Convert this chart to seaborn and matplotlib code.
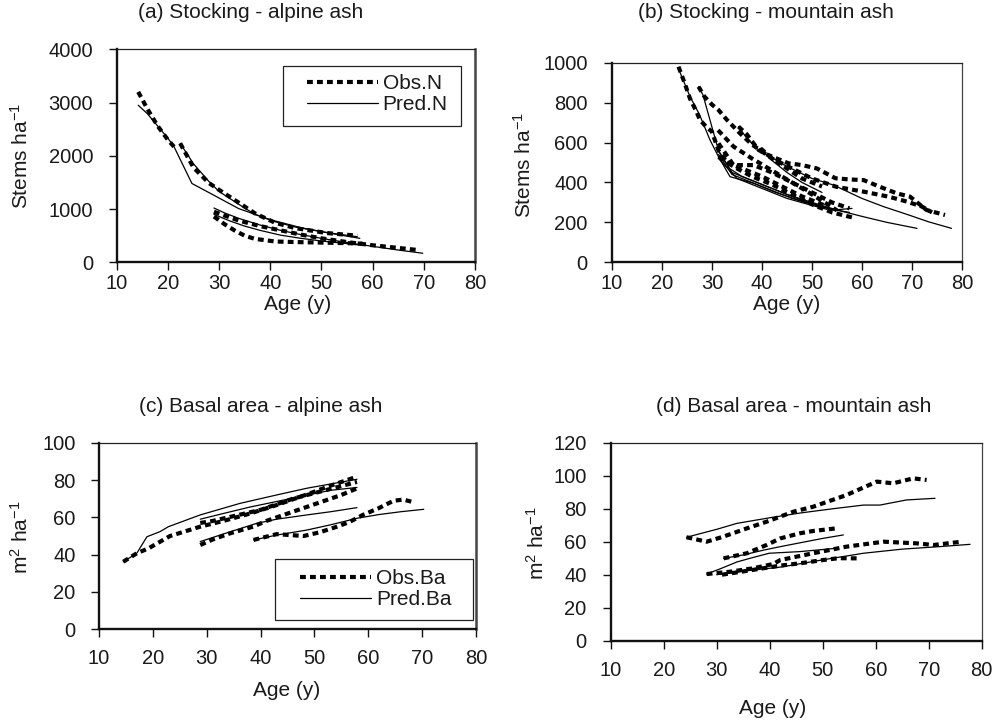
import numpy as np
import pandas as pd
import matplotlib
matplotlib.use("Agg")
import matplotlib.pyplot as plt
import seaborn as sns
from matplotlib.lines import Line2D
from matplotlib.patches import Rectangle

# ---------------- data: (a) Stocking - alpine ash ----------------
a1_obs_age = [14.2, 16, 18, 20, 21.2]
a1_obs = [3200, 2880, 2560, 2300, 2170]
a1_pred_age = [14.2, 16, 18, 20, 21.2, 24.7, 28.2, 33.8, 40, 46, 52, 57.5]
a1_pred = [2950, 2790, 2560, 2330, 2170, 1480, 1300, 1010, 800, 650, 540, 450]
a2_obs_age = [22.4, 25, 28, 30, 34, 37, 41, 45, 51, 57]
a2_obs = [2234, 1780, 1490, 1360, 1110, 920, 740, 640, 550, 500]
a2_pred_age = [22.4, 25, 28, 30, 34, 37, 41, 45, 51, 57]
a2_pred = [2234, 1850, 1520, 1330, 1080, 900, 760, 660, 560, 480]
a3_obs_age = [29, 31, 34, 38, 42, 46, 50, 55, 60, 65, 68.9]
a3_obs = [950, 880, 780, 680, 600, 520, 450, 380, 320, 270, 230]
a3_pred_age = [29, 31, 34, 38, 42, 46, 50, 55, 60, 65, 69.8]
a3_pred = [1020, 930, 820, 700, 600, 520, 450, 370, 300, 230, 170]
a4_obs_age = [29, 31, 33, 35, 37, 41, 45, 50, 55, 58]
a4_obs = [860, 720, 600, 500, 440, 390, 380, 370, 360, 350]
a4_pred_age = [29, 32, 35, 38, 42, 46, 50, 54, 58]
a4_pred = [900, 780, 680, 600, 510, 450, 400, 360, 320]

# ---------------- data: (b) Stocking - mountain ash ----------------
b1_obs_age = [23.3, 24.5, 25.6, 26.8, 27.6, 28.8, 30, 31.3, 33, 35, 38, 42, 46, 50, 54, 58]
b1_obs = [980, 900, 820, 760, 713, 680, 654, 560, 500, 470, 430, 390, 340, 290, 250, 225]
b1_pred_age = [23.3, 25.6, 27.5, 29.6, 31.3, 33.6, 38.3, 42.3, 48.3, 54.3, 58]
b1_pred = [970, 830, 740, 613, 529, 429, 396, 354, 304, 262, 270]
b2_obs_age = [27.3, 28.5, 30, 31.3, 33, 35.6, 38, 42, 46, 50, 54.9, 60.3, 65.3, 69, 72, 74]
b2_obs = [880, 830, 790, 763, 713, 646, 590, 520, 470, 420, 378, 354, 329, 304, 279, 250]
b2_pred_age = [27.3, 28.2, 31.3, 33.5, 36, 40, 45, 50, 55, 60, 65, 71]
b2_pred = [880, 838, 560, 470, 430, 390, 340, 300, 262, 230, 200, 170]
b3_obs_age = [31.2, 34.3, 38, 42, 46, 50, 55]
b3_obs = [662, 580, 520, 460, 400, 340, 260]
b3_pred_age = [31.2, 34, 38, 42, 46, 50, 55]
b3_pred = [560, 450, 410, 370, 330, 295, 260]
b4_obs_age = [31.3, 34.3, 38.3, 42, 46, 50, 54, 57.5]
b4_obs = [596, 487, 487, 450, 400, 350, 300, 270]
b4_pred_age = [31.3, 34, 38, 42, 46, 50, 54, 57.5]
b4_pred = [540, 440, 400, 360, 320, 290, 265, 250]
b5_obs_age = [31.3, 33, 36, 40, 44, 48, 53]
b5_obs = [529, 500, 470, 430, 380, 330, 280]
b5_pred_age = [31.3, 35, 40, 45, 50, 53]
b5_pred = [520, 420, 370, 320, 285, 265]
b6_obs_age = [35.3, 37, 39.3, 41, 45.3, 48, 51, 54.7, 57.5, 60.3, 63.6, 67, 69.6, 72.9, 76.6]
b6_obs = [680, 640, 563, 540, 496, 487, 470, 421, 415, 412, 378, 345, 329, 262, 237]
b6_pred_age = [35.3, 37, 39.3, 45, 50, 54.3, 60, 64.3, 69, 73.3, 77.9]
b6_pred = [680, 620, 563, 480, 420, 387, 320, 279, 240, 203, 170]
b7_obs_age = [39.7, 42, 45, 48, 52]
b7_obs = [571, 520, 470, 420, 380]
b7_pred_age = [39.7, 42, 45, 48, 52]
b7_pred = [571, 510, 450, 400, 350]

# ---------------- data: (c) Basal area - alpine ash ----------------
c1_obs_age = [14.5, 17, 19.2, 23.2, 28.8, 33, 38, 43, 49.2, 53, 57.9]
c1_obs = [36.2, 40.7, 43.4, 50, 55, 58, 62, 66.6, 72.9, 77, 81.8]
c1_pred_age = [14.5, 17, 18.9, 21.3, 22.9, 28.8, 36.2, 43, 48.6, 57.9]
c1_pred = [36.2, 40.7, 49.6, 52.3, 55, 61.3, 67.5, 72, 75.6, 80.4]
c2_obs_age = [28.8, 31, 34, 37, 40, 43, 46, 50, 54, 57.9]
c2_obs = [57, 58, 60, 62, 64, 67, 70, 73, 76, 79]
c2_pred_age = [28.8, 33, 38, 43, 48, 53, 57.9]
c2_pred = [59, 62, 65.5, 68.5, 71.5, 74.5, 76]
c3_obs_age = [28.8, 31, 34.3, 38.6, 41, 44, 48, 52, 55, 57.9]
c3_obs = [45.2, 48, 51.4, 55, 58, 61, 65, 69, 72, 75.5]
c3_pred_age = [28.8, 33, 39.3, 43, 48.6, 53, 57.9]
c3_pred = [47, 51, 56.8, 59, 61.3, 63, 65.2]
c4_obs_age = [38.7, 43, 48, 51, 54.2, 56.5, 59, 62, 64.7, 66.5, 68.7]
c4_obs = [47.9, 51, 50, 52, 55, 57.5, 61.3, 65, 68.9, 69.5, 67.9]
c4_pred_age = [38.7, 43, 48.6, 53, 57.9, 62, 66, 70.3]
c4_pred = [47.9, 50.5, 53.2, 56, 59.5, 61.5, 63, 64.3]

# ---------------- data: (d) Basal area - mountain ash ----------------
d1_obs_age = [24.3, 28.1, 31.2, 35.7, 39.4, 44.5, 48.2, 54.5, 60.2, 63.3, 67.1, 69.6]
d1_obs = [62.7, 60, 63, 68.1, 72.1, 78.2, 81.2, 88.3, 96.4, 95.4, 98.4, 97.4]
d1_pred_age = [24.3, 30, 33.8, 40, 46, 52, 57.7, 60.8, 65.8, 71.2]
d1_pred = [62.7, 67.5, 71.1, 74.5, 77.5, 80, 82.2, 82.2, 85.3, 86.3]
d2_obs_age = [31.3, 35.7, 39.4, 42, 45.7, 48.2, 52.6]
d2_obs = [49.9, 53, 58, 62, 65.1, 66.5, 68.1]
d2_pred_age = [31.3, 35, 39, 42, 46, 50, 53.9]
d2_pred = [49.9, 52, 55, 57, 59.5, 62, 64.1]
d3_obs_age = [28.1, 32.5, 36.9, 40.7, 42, 48.2, 54.5, 61.5, 67.7, 70.9, 76.2]
d3_obs = [40.4, 41.8, 43.9, 46.5, 48.9, 53, 57, 60, 59, 58, 60]
d3_pred_age = [28.1, 31, 33.8, 36.7, 39.9, 45.7, 52.6]
d3_pred = [40.4, 44, 47.7, 50.3, 53, 54, 56]
d4_obs_age = [31, 34, 37, 40, 42, 45.7, 50.1, 53, 56.4]
d4_obs = [40, 41.5, 43, 44.5, 45.5, 46.9, 48.9, 50, 49.9]
d4_pred_age = [30, 36, 42, 50, 57.7, 65, 72, 77.8]
d4_pred = [40, 42.5, 44.6, 49, 53, 55.5, 57, 58.4]

x_ticks = [10, 20, 30, 40, 50, 60, 70, 80]
yticks_a = [0, 1000, 2000, 3000, 4000]
yticks_b = [0, 200, 400, 600, 800, 1000]
yticks_c = [0, 20, 40, 60, 80, 100]
yticks_d = [0, 20, 40, 60, 80, 100, 120]

titles = ["(a) Stocking - alpine ash", "(b) Stocking - mountain ash",
          "(c) Basal area - alpine ash", "(d) Basal area - mountain ash"]
xlabel = "Age (y)"
ylabel_n = r"Stems ha$^{\mathregular{-1}}$"
ylabel_ba = r"m$^{\mathregular{2}}$ ha$^{\mathregular{-1}}$"
legend_n = ["Obs.N", "Pred.N"]
legend_ba = ["Obs.Ba", "Pred.Ba"]


def build(stands):
    rows = []
    for name, (oa, ov, pa, pv) in stands.items():
        for a, v in zip(oa, ov):
            rows.append((name, "Obs", a, v))
        for a, v in zip(pa, pv):
            rows.append((name, "Pred", a, v))
    return pd.DataFrame(rows, columns=["stand", "kind", "age", "value"])


df_a = build({"A1": (a1_obs_age, a1_obs, a1_pred_age, a1_pred),
              "A2": (a2_obs_age, a2_obs, a2_pred_age, a2_pred),
              "A3": (a3_obs_age, a3_obs, a3_pred_age, a3_pred),
              "A4": (a4_obs_age, a4_obs, a4_pred_age, a4_pred)})
df_b = build({"B1": (b1_obs_age, b1_obs, b1_pred_age, b1_pred),
              "B2": (b2_obs_age, b2_obs, b2_pred_age, b2_pred),
              "B3": (b3_obs_age, b3_obs, b3_pred_age, b3_pred),
              "B4": (b4_obs_age, b4_obs, b4_pred_age, b4_pred),
              "B5": (b5_obs_age, b5_obs, b5_pred_age, b5_pred),
              "B6": (b6_obs_age, b6_obs, b6_pred_age, b6_pred),
              "B7": (b7_obs_age, b7_obs, b7_pred_age, b7_pred)})
df_c = build({"C1": (c1_obs_age, c1_obs, c1_pred_age, c1_pred),
              "C2": (c2_obs_age, c2_obs, c2_pred_age, c2_pred),
              "C3": (c3_obs_age, c3_obs, c3_pred_age, c3_pred),
              "C4": (c4_obs_age, c4_obs, c4_pred_age, c4_pred)})
df_d = build({"D1": (d1_obs_age, d1_obs, d1_pred_age, d1_pred),
              "D2": (d2_obs_age, d2_obs, d2_pred_age, d2_pred),
              "D3": (d3_obs_age, d3_obs, d3_pred_age, d3_pred),
              "D4": (d4_obs_age, d4_obs, d4_pred_age, d4_pred)})

sns.set_theme(style="ticks")
plt.rcParams["font.family"] = ["Liberation Sans", "DejaVu Sans"]
plt.rcParams["mathtext.fontset"] = "custom"
plt.rcParams["mathtext.rm"] = "Liberation Sans"
plt.rcParams["mathtext.it"] = "Liberation Sans:italic"
plt.rcParams["mathtext.bf"] = "Liberation Sans:bold"
plt.rcParams["text.color"] = "#1a1a1a"

W, H = 992, 722
fig = plt.figure(figsize=(W / 100, H / 100), dpi=100)
FS = 15
TFS = 14.5
OBS_LW = 3.0
PRED_LW = 0.9
OBS_DASH = (1.4, 1.0)


def px_rect(l, t, r, b):
    return [l / W, 1 - b / H, (r - l) / W, (b - t) / H]


def fx(x):
    return x / W


def fy(y):
    return 1 - y / H


def panel(rect, df, yticks, ylim, xpad, ypad, right_lw):
    ax = fig.add_axes(px_rect(*rect))
    sns.lineplot(data=df, x="age", y="value", style="kind", size="kind",
                 units="stand", estimator=None, sort=False, color="black",
                 dashes={"Obs": OBS_DASH, "Pred": ""},
                 sizes={"Obs": OBS_LW, "Pred": PRED_LW},
                 style_order=["Pred", "Obs"], size_order=["Pred", "Obs"],
                 legend=False, ax=ax)
    ax.set_xlim(10, 80)
    ax.set_ylim(*ylim)
    ax.set_xticks(x_ticks)
    ax.set_yticks(yticks)
    ax.set_xlabel("")
    ax.set_ylabel("")
    for s in ["left", "bottom"]:
        ax.spines[s].set_linewidth(1.7)
        ax.spines[s].set_color("#111111")
    ax.spines["top"].set_linewidth(0.9)
    ax.spines["top"].set_color("#222222")
    ax.spines["right"].set_linewidth(right_lw)
    ax.spines["right"].set_color("#444444")
    ax.tick_params(axis="both", direction="out", length=5.5, width=1.0,
                   color="#111111", labelsize=TFS, labelcolor="#1a1a1a")
    ax.tick_params(axis="y", pad=ypad)
    ax.tick_params(axis="x", pad=xpad)
    ax.set_facecolor("white")
    return ax


ax_a = panel((116.7, 49.3, 475, 262.3), df_a, yticks_a, (0, 4000), 3, 11.5, 1.8)
ax_b = panel((612, 62.7, 962, 262.3), df_b, yticks_b, (0, 1000), 3, 12.0, 0.9)
ax_c = panel((99, 442.7, 476, 629.3), df_c, yticks_c, (0, 100), 9, 11.5, 1.8)
ax_d = panel((610.7, 442.7, 981.7, 640.7), df_d, yticks_d, (0, 120), 9, 12.0, 0.9)

# titles
fig.text(fx(251), fy(13), titles[0], ha="center", va="center", fontsize=FS)
fig.text(fx(766), fy(13), titles[1], ha="center", va="center", fontsize=FS)
fig.text(fx(261), fy(407), titles[2], ha="center", va="center", fontsize=FS)
fig.text(fx(794), fy(407), titles[3], ha="center", va="center", fontsize=FS)

# x labels
fig.text(fx(298), fy(304), xlabel, ha="center", va="center", fontsize=FS)
fig.text(fx(787), fy(304), xlabel, ha="center", va="center", fontsize=FS)
fig.text(fx(287), fy(691), xlabel, ha="center", va="center", fontsize=FS)
fig.text(fx(773), fy(709), xlabel, ha="center", va="center", fontsize=FS)

# y labels
fig.text(fx(21), fy(156), ylabel_n, ha="center", va="center", rotation=90, fontsize=FS)
fig.text(fx(524), fy(165), ylabel_n, ha="center", va="center", rotation=90, fontsize=FS)
fig.text(fx(21), fy(537), ylabel_ba, ha="center", va="center", rotation=90, fontsize=FS)
fig.text(fx(537), fy(543), ylabel_ba, ha="center", va="center", rotation=90, fontsize=FS)


def legend(ax, labels, frame, hx, ymid):
    handles = [Line2D([], [], color="black", lw=OBS_LW, dashes=OBS_DASH,
                      dash_capstyle="butt"),
               Line2D([], [], color="black", lw=PRED_LW)]
    ax.legend(handles, labels, frameon=False, loc="center left",
              bbox_to_anchor=(fx(hx), fy(ymid)), bbox_transform=fig.transFigure,
              borderpad=0, borderaxespad=0, handlelength=3.4,
              handletextpad=0.25, labelspacing=0.1, fontsize=FS)
    l, t, r, b = frame
    fig.add_artist(Rectangle((fx(l), fy(b)), (r - l) / W, (b - t) / H,
                             transform=fig.transFigure, facecolor="none",
                             edgecolor="#222222", lw=0.9))


legend(ax_a, legend_n, (283, 65.7, 460.7, 126), 306.7, 94.3)
legend(ax_c, legend_ba, (275, 559, 473, 620), 300, 589.2)

fig.savefig("out.png", dpi=100, facecolor="white")
